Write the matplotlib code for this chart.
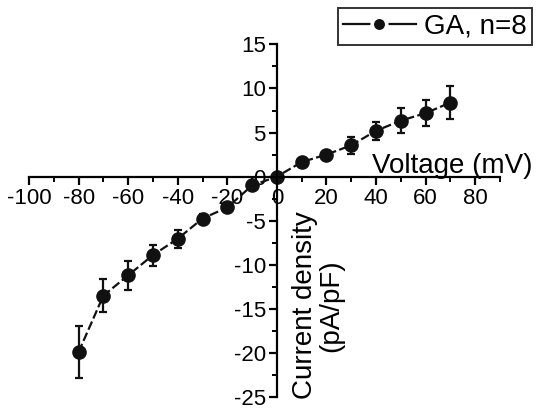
import numpy as np
import matplotlib.pyplot as plt
from matplotlib.lines import Line2D
from matplotlib.ticker import MultipleLocator

plt.rcParams['font.family'] = ['Liberation Sans', 'DejaVu Sans']
plt.rcParams['axes.unicode_minus'] = False

# I-V relationship, mean +/- SEM
voltage = [-80, -70, -60, -50, -40, -30, -20, -10, 0, 10, 20, 30, 40, 50, 60, 70]
current = [-19.9, -13.5, -11.2, -8.9, -7.05, -4.75, -3.5, -1.0, 0.0,
           1.65, 2.5, 3.55, 5.2, 6.35, 7.2, 8.4]
sem = [2.9, 1.85, 1.65, 1.2, 1.05, 0.5, 0.5, 0.3, 0.0,
       0.3, 0.3, 0.95, 1.05, 1.4, 1.5, 1.85]

fig = plt.figure(figsize=(5.37, 4.11), dpi=100)
ax = fig.add_axes([0.054, 0.034, 0.877, 0.858])

ax.errorbar(voltage, current, yerr=sem, color='#111111', marker='o', markersize=9.5,
            linestyle=(0, (4, 1.5)), linewidth=1.6, elinewidth=1.6, capsize=2.6,
            capthick=1.6)

ax.set_xlim(-100, 90)
ax.set_ylim(-25, 15)

# axes crossing at the origin
for side in ['right', 'top']:
    ax.spines[side].set_visible(False)
ax.spines['left'].set_position(('data', 0))
ax.spines['bottom'].set_position(('data', 0))
ax.spines['left'].set_linewidth(1.6)
ax.spines['bottom'].set_linewidth(1.6)

ax.xaxis.set_major_locator(MultipleLocator(20))
ax.xaxis.set_minor_locator(MultipleLocator(10))
ax.yaxis.set_major_locator(MultipleLocator(5))
ax.yaxis.set_minor_locator(MultipleLocator(2.5))
ax.tick_params(which='major', direction='out', length=6, width=1.6, labelsize=16, pad=2)
ax.tick_params(which='minor', direction='out', length=3.5, width=1.4)

ax.text(103, 0.45, 'Voltage (mV)', fontsize=20, ha='right', va='baseline')
ax.text(16.5, -14.6, 'Current density\n(pA/pF)', fontsize=20, rotation=90,
        ha='center', va='center', multialignment='center', linespacing=1.0)

# legend handle: marker with a white rim so the line stops short of it
handle = Line2D([], [], color='#111111', linewidth=1.6, marker='o', markersize=10.5,
                markeredgecolor='white', markeredgewidth=2.6)
leg = ax.legend([handle], ['GA, n=8'], loc='upper right', bbox_to_anchor=(0.991, 0.981),
                bbox_transform=fig.transFigure, fontsize=20, frameon=True,
                fancybox=False, handlelength=2.6, handletextpad=0.3,
                borderpad=0.2, borderaxespad=0)
leg.get_frame().set_edgecolor('black')
leg.get_frame().set_linewidth(1.4)

fig.savefig('out.png', dpi=100)
